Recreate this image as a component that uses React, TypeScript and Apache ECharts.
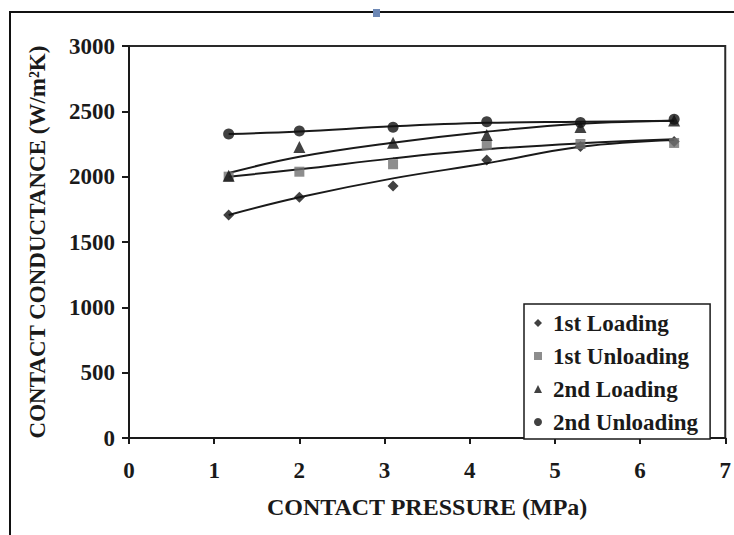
import React, { useEffect, useRef } from "react";
import * as echarts from "echarts";

const xValues = [1.17, 2.0, 3.1, 4.2, 5.3, 6.4];
const firstLoading = [1707, 1842, 1929, 2128, 2230, 2270];
const firstUnloading = [2000, 2038, 2095, 2242, 2250, 2258];
const secondLoading = [2007, 2227, 2260, 2319, 2380, 2430];
const secondUnloading = [2326, 2349, 2378, 2421, 2415, 2439];

const firstLoadingFit = [1707, 1842, 1987, 2102, 2229, 2281];
const firstUnloadingFit = [2000, 2056, 2140, 2209, 2255, 2286];
const secondLoadingFit = [2028, 2152, 2260, 2344, 2405, 2428];
const secondUnloadingFit = [2326, 2345, 2385, 2412, 2420, 2428];

const seriesNames = ["1st Loading", "1st Unloading", "2nd Loading", "2nd Unloading"];
const seriesSymbols = ["diamond", "rect", "triangle", "circle"];
const seriesSizes = [11, 10, 12, 11];
const seriesColors = ["#111", "#707070", "#111", "#111"];

const xTitle = "CONTACT PRESSURE (MPa)";
const yTitle = "CONTACT CONDUCTANCE (W/m²K)";

const FONT = "'Liberation Serif', 'DejaVu Serif', serif";

const zip = (ys: number[]) => xValues.map((x, i) => [x, ys[i]]);

export default function App() {
  const ref = useRef<HTMLDivElement>(null);
  useEffect(() => {
    if (!ref.current) return;
    const chart = echarts.init(ref.current, undefined, { renderer: "svg" });
    const points = [firstLoading, firstUnloading, secondLoading, secondUnloading];
    const fits = [firstLoadingFit, firstUnloadingFit, secondLoadingFit, secondUnloadingFit];
    const lineSeries = fits.map((f, i) => ({
      name: seriesNames[i] + " fit",
      type: "line",
      data: zip(f),
      smooth: 0.4,
      showSymbol: false,
      symbol: "none",
      lineStyle: { color: "#1a1a1a", width: 2 },
      z: 2,
      silent: true,
    }));
    const scatterSeries = points.map((p, i) => ({
      name: seriesNames[i],
      type: "scatter",
      data: zip(p),
      symbol: seriesSymbols[i],
      symbolSize: seriesSizes[i],
      itemStyle: { color: seriesColors[i] },
      z: 3,
    }));
    chart.setOption({
      animation: false,
      backgroundColor: "#fff",
      textStyle: { fontFamily: FONT },
      grid: {
        left: 129,
        right: 5,
        top: 46,
        bottom: 97,
        show: true,
        borderColor: "#2a2a2a",
        borderWidth: 2,
        backgroundColor: "transparent",
      },
      xAxis: {
        type: "value",
        min: 0,
        max: 7,
        interval: 1,
        name: xTitle,
        nameLocation: "middle",
        nameGap: 57,
        nameTextStyle: { fontFamily: FONT, fontWeight: "bold", fontSize: 24, color: "#1a1a1a" },
        axisLine: { show: true, lineStyle: { color: "#1a1a1a", width: 2 } },
        axisTick: { show: true, inside: false, length: 6, lineStyle: { color: "#1a1a1a", width: 2 } },
        axisLabel: { margin: 21, fontFamily: FONT, fontWeight: "bold", fontSize: 23, color: "#1a1a1a" },
        splitLine: { show: false },
      },
      yAxis: {
        type: "value",
        min: 0,
        max: 3000,
        interval: 500,
        name: yTitle,
        nameLocation: "middle",
        nameGap: 80,
        nameTextStyle: { fontFamily: FONT, fontWeight: "bold", fontSize: 23, color: "#1a1a1a" },
        axisLine: { show: true, lineStyle: { color: "#1a1a1a", width: 2 } },
        axisTick: { show: true, inside: false, length: 7, lineStyle: { color: "#1a1a1a", width: 2 } },
        axisLabel: {
          margin: 14,
          fontFamily: FONT,
          fontWeight: "bold",
          fontSize: 23,
          color: "#1a1a1a",
          formatter: (v: number) => String(v),
        },
        splitLine: { show: false },
      },
      legend: {
        data: seriesNames.map((n, i) => ({
          name: n,
          icon: seriesSymbols[i],
          itemStyle: { color: seriesColors[i] },
        })),
        orient: "vertical",
        left: 524,
        top: 304,
        itemWidth: 8,
        itemHeight: 8,
        itemGap: 9,
        padding: [7, 12, 5, 10],
        borderColor: "#1a1a1a",
        borderWidth: 1.5,
        backgroundColor: "#fff",
        textStyle: {
          fontFamily: FONT,
          fontWeight: "bold",
          fontSize: 23,
          lineHeight: 24,
          color: "#1a1a1a",
          padding: [0, 0, 0, 6],
        },
        selectedMode: false,
        z: 10,
      },
      graphic: [
        {
          type: "rect",
          shape: { x: 10, y: 12, width: 740, height: 540 },
          style: { fill: "none", stroke: "#111", lineWidth: 2 },
          silent: true,
          z: 20,
        },
        {
          type: "rect",
          shape: { x: 373, y: 9, width: 7, height: 8 },
          style: { fill: "#6d88b5" },
          silent: true,
          z: 21,
        },
      ],
      series: [...lineSeries, ...scatterSeries],
    });
    return () => chart.dispose();
  }, []);
  return (
    <div
      ref={ref}
      style={{ position: "fixed", left: 0, top: 0, width: 734, height: 535, background: "#fff" }}
    />
  );
}
